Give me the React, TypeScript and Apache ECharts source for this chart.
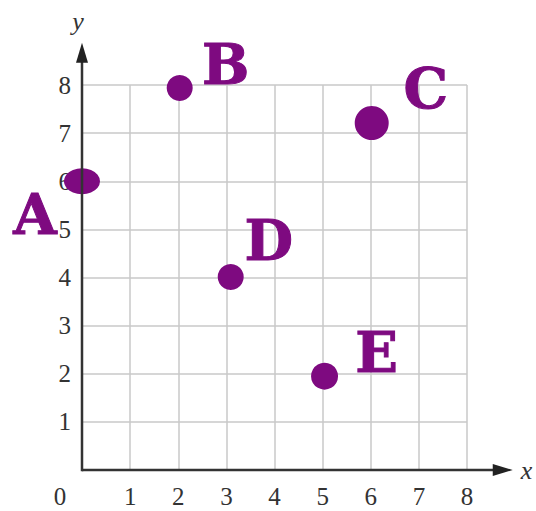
import React, { useEffect, useRef } from "react";
import * as echarts from "echarts";

// Data
const pointNames = ["A", "B", "C", "D", "E"];
const xValues = [0, 2.03, 6.02, 3.09, 5.04];
const yValues = [6, 7.94, 7.21, 4.01, 1.95];
const tickValues = [0, 1, 2, 3, 4, 5, 6, 7, 8];

// Styles (per point)
const symbolSizes: any[] = [[36, 26], 26, 34, 26, 27];
const labelOffsets: number[][] = [[-47, 33], [46, -24], [54, -35], [38, -37], [52, -24]];

const PURPLE = "#7e0a80";
const AXIS = "#333333";
const SERIF = "'Liberation Serif', 'DejaVu Serif', serif";
const SLAB = "'DejaVu Serif', serif";

export default function App() {
  const ref = useRef<HTMLDivElement>(null);
  useEffect(() => {
    if (!ref.current) return;
    const chart = echarts.init(ref.current, undefined, { renderer: "svg" });
    const data = pointNames.map((n, i) => ({
      name: n,
      value: [xValues[i], yValues[i]],
      symbolSize: symbolSizes[i],
      label: { offset: labelOffsets[i] },
    }));
    chart.setOption({
      animation: false,
      backgroundColor: "#ffffff",
      grid: { left: 82, right: 69, top: 85, bottom: 41, containLabel: false },
      xAxis: {
        type: "value",
        min: tickValues[0],
        max: tickValues[tickValues.length - 1],
        interval: 1,
        axisLine: { show: false },
        axisTick: { show: false },
        splitLine: { show: true, lineStyle: { color: "#c9c9c9", width: 1.5 } },
        axisLabel: {
          margin: 14,
          color: AXIS,
          fontFamily: SERIF,
          fontSize: 25,
          formatter: (v: number) => (v === 0 ? "{z|0}" : "{n|" + v + "}"),
          rich: {
            z: { fontFamily: SERIF, fontSize: 25, color: AXIS, padding: [0, 44, 0, 0] },
            n: { fontFamily: SERIF, fontSize: 25, color: AXIS },
          },
        },
      },
      yAxis: {
        type: "value",
        min: tickValues[0],
        max: tickValues[tickValues.length - 1],
        interval: 1,
        axisLine: { show: false },
        axisTick: { show: false },
        splitLine: { show: true, lineStyle: { color: "#c9c9c9", width: 1.5 } },
        axisLabel: {
          margin: 11,
          color: AXIS,
          fontFamily: SERIF,
          fontSize: 25,
          formatter: (v: number) => (v === 0 ? "" : String(v)),
        },
      },
      series: [
        {
          type: "scatter",
          data,
          symbol: "circle",
          itemStyle: { color: PURPLE, opacity: 1 },
          label: {
            show: true,
            position: "inside",
            formatter: "{b}",
            color: PURPLE,
            fontFamily: SLAB,
            fontWeight: "bold",
            fontSize: 56,
            textBorderColor: PURPLE,
            textBorderWidth: 1,
            align: "center",
            verticalAlign: "middle",
          },
          z: 5,
        },
      ],
    });

    const o = chart.convertToPixel({ gridIndex: 0 }, [0, 0]) as number[];
    const xTip = chart.convertToPixel({ gridIndex: 0 }, [8.95, 0]) as number[];
    const yTip = chart.convertToPixel({ gridIndex: 0 }, [0, 8.88]) as number[];
    const head = 20;
    const half = 6;
    chart.setOption({
      graphic: [
        {
          type: "line",
          shape: { x1: o[0], y1: o[1], x2: xTip[0] - head + 2, y2: o[1] },
          style: { stroke: AXIS, lineWidth: 2.5 },
          z: 10,
        },
        {
          type: "polygon",
          shape: { points: [[xTip[0], o[1]], [xTip[0] - head, o[1] - half], [xTip[0] - head, o[1] + half]] },
          style: { fill: "#222" },
          z: 10,
        },
        {
          type: "line",
          shape: { x1: o[0], y1: o[1] + 1.25, x2: o[0], y2: yTip[1] + head - 2 },
          style: { stroke: AXIS, lineWidth: 2.5 },
          z: 10,
        },
        {
          type: "polygon",
          shape: { points: [[o[0], yTip[1]], [o[0] - half, yTip[1] + head], [o[0] + half, yTip[1] + head]] },
          style: { fill: "#222" },
          z: 10,
        },
        {
          type: "text",
          x: xTip[0] + 8,
          y: o[1],
          style: {
            text: "x",
            font: "italic 26px 'Liberation Serif'",
            fill: AXIS,
            verticalAlign: "middle",
            align: "left",
          },
          z: 10,
        },
        {
          type: "text",
          x: o[0] - 4,
          y: yTip[1] - 8,
          style: {
            text: "y",
            font: "italic 26px 'Liberation Serif'",
            fill: AXIS,
            verticalAlign: "bottom",
            align: "center",
          },
          z: 10,
        },
      ],
    });
    return () => chart.dispose();
  }, []);
  return <div ref={ref} style={{ position: "absolute", left: 0, top: 0, width: 536, height: 511 }} />;
}
